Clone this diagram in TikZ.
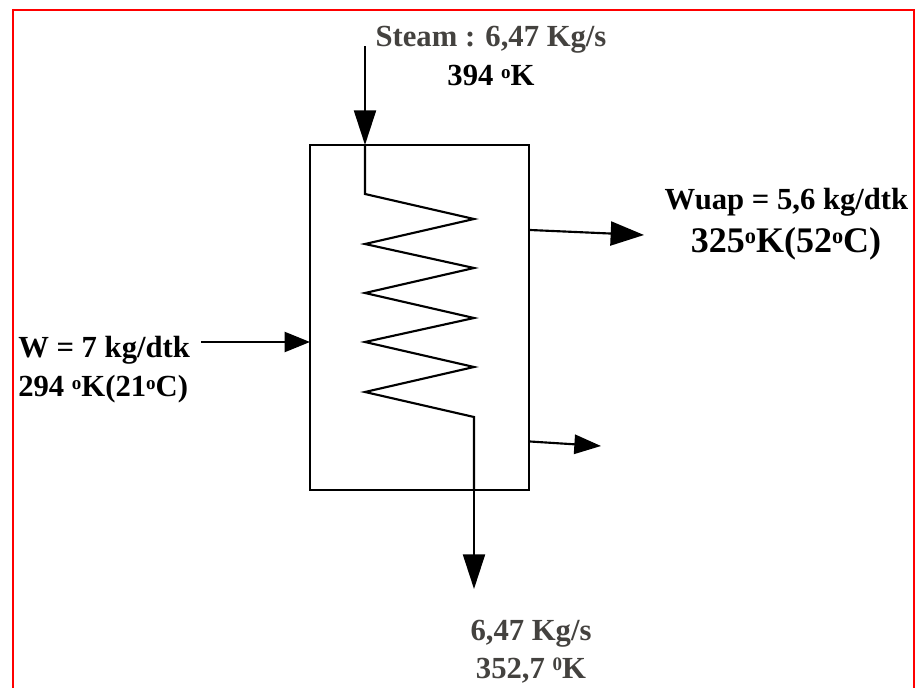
\documentclass[tikz,border=0pt]{standalone}
\usepackage{fontspec}
\setmainfont{Liberation Serif}
\usetikzlibrary{arrows.meta}
\newcommand{\dg}{\raisebox{0.55ex}{\scalebox{0.62}{o}}}
\newcommand{\zr}{\raisebox{0.55ex}{\scalebox{0.62}{0}}}
\definecolor{greytext}{HTML}{44423F}
\definecolor{frame}{HTML}{FF0000}
\tikzset{
  px/.style={x=0.75pt,y=-0.75pt},
  line/.style={draw=black,line width=1.6pt,line join=miter},
  flow/.style={line,-{Triangle[length=26pt,width=16.5pt]}},
  vapflow/.style={line,-{Triangle[length=25pt,width=18pt]}},
  feedflow/.style={line,-{Triangle[length=19pt,width=15pt]}},
  smallflow/.style={line,-{Triangle[length=20pt,width=14.5pt]}},
  lab/.style={font=\fontsize{23}{28}\selectfont\bfseries,inner sep=0pt,anchor=base},
  biglab/.style={font=\fontsize{27}{32}\selectfont\bfseries,inner sep=0pt,anchor=base},
  unitbox/.style={draw=black,line width=1.6pt,minimum width=164pt,minimum height=259pt,inner sep=0pt,outer sep=0pt,anchor=north west}
}
\begin{document}
\begin{tikzpicture}[px]
\useasboundingbox (0,0) rectangle (915,688);
\draw[frame,line width=1.5pt] (13,10) -- (914.5,10);
\draw[frame,line width=2pt] (13,9) -- (13,688);
\draw[frame,line width=1.2pt] (914.2,10) -- (914.2,688);
\node[unitbox] (vessel) at (310,145) {};
\coordinate (steamin) at (365,46.5);
\coordinate (steamhit) at (365,145);
\coordinate (coilin) at (365,194);
\coordinate (c1) at (474,219);
\coordinate (c2) at (365,244);
\coordinate (c3) at (474,268);
\coordinate (c4) at (365,293);
\coordinate (c5) at (474,318);
\coordinate (c6) at (365,342);
\coordinate (c7) at (474,367);
\coordinate (c8) at (365,392);
\coordinate (coilout) at (474,417);
\coordinate (coilexit) at (474,491);
\coordinate (condout) at (474,589);
\coordinate (vapfrom) at (530,230);
\coordinate (vapto) at (644,235);
\coordinate (liqfrom) at (530,441.5);
\coordinate (liqto) at (601,446);
\coordinate (feedfrom) at (201,342);
\coordinate (feedto) at (310,342);
\draw[flow] (steamin) -- (steamhit);
\draw[line] (steamhit) -- (coilin) -- (c1) -- (c2) -- (c3) -- (c4) -- (c5) -- (c6) -- (c7) -- (c8) -- (coilout) -- (coilexit);
\draw[flow] (coilexit) -- (condout);
\draw[vapflow] (vapfrom) -- (vapto);
\draw[smallflow] (liqfrom) -- (liqto);
\draw[feedflow] (feedfrom) -- (feedto);
\node[lab,text=greytext] (steam) at (491,47) {Steam : 6,47 Kg/s};
\node[lab] (steamt) at (491,86) {394 \dg K};
\node[lab,anchor=base west] (feed) at (18,358) {W = 7 kg/dtk};
\node[lab,anchor=base west] (feedt) at (18,397) {294 \dg K(21\dg C)};
\node[lab] (vap) at (786.5,210) {Wuap = 5,6 kg/dtk};
\node[biglab] (vapt) at (786,253) {325\dg K(52\dg C)};
\node[lab,text=greytext] (cond) at (531,640) {6,47 Kg/s};
\node[lab,text=greytext] (condt) at (531,678) {352,7 \zr K};
\end{tikzpicture}
\end{document}
